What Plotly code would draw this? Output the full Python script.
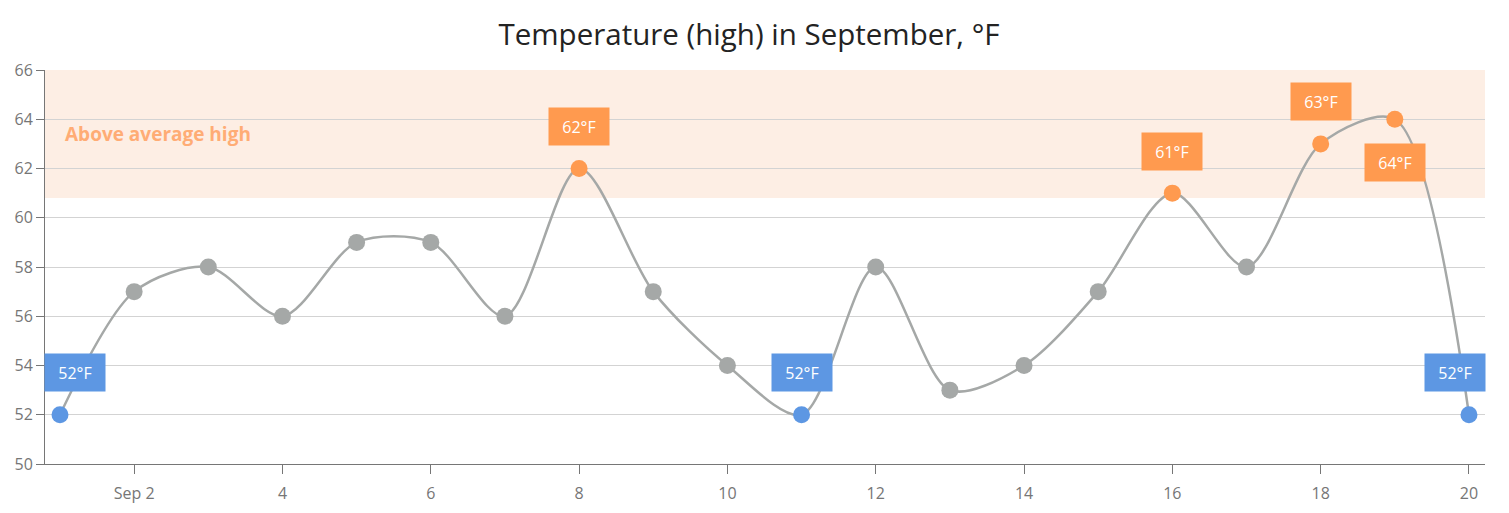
import plotly.graph_objects as go

# ---- data ----
dates = ["2023-09-%02d" % d for d in range(1, 21)]
temps = [52, 57, 58, 56, 59, 59, 56, 62, 57, 54, 52, 58, 53, 54, 57, 61, 58, 63, 64, 52]
tick_dates = ["2023-09-%02d" % d for d in range(2, 21, 2)]
tick_labels = ["Sep 2", "4", "6", "8", "10", "12", "14", "16", "18", "20"]
band_low, band_high = 60.8, 66
band_label = "Above average high"
title = "Temperature (high) in September, °F"

BLUE = "#5d97e3"
ORANGE = "#ff9a4f"
GRAY = "#a5a8a7"
FONT = "Open Sans"

low = min(temps)
colors = []
for t in temps:
    if t == low:
        colors.append(BLUE)
    elif t >= band_low:
        colors.append(ORANGE)
    else:
        colors.append(GRAY)

fig = go.Figure()
fig.add_shape(type="rect", xref="paper", x0=0, x1=1, yref="y", y0=band_low, y1=band_high,
              fillcolor="#fdeee4", line_width=0, layer="below")

fig.add_trace(go.Scatter(
    x=dates, y=temps, mode="lines+markers",
    line=dict(color=GRAY, width=2.5, shape="spline", smoothing=0.85),
    marker=dict(size=17, color=colors, line=dict(width=0)),
    hoverinfo="x+y", showlegend=False,
))

n = len(temps)
for i, (d, t, c) in enumerate(zip(dates, temps, colors)):
    if c == GRAY:
        continue
    yshift = 42
    if t == max(temps):
        yshift = -43
    xshift = 0
    if i == 0:
        xshift = 15
    elif i == n - 1:
        xshift = -14
    fig.add_annotation(
        x=d, y=t, text=f"{t}°F", showarrow=False,
        xshift=xshift, yshift=yshift,
        bgcolor=c, width=52, height=29, borderpad=4,
        font=dict(family=FONT, size=16, color="white"),
    )

fig.add_annotation(
    xref="paper", yref="y", x=(63 - 45) / 1440, y=63.4, xanchor="left",
    text=f"<b>{band_label}</b>", showarrow=False,
    font=dict(family=FONT, size=19, color="#ffac75"),
)

fig.update_layout(
    width=1501, height=505,
    margin=dict(l=37, r=24, t=62, b=49, autoexpand=False),
    paper_bgcolor="white", plot_bgcolor="white",
    title=dict(text=title, x=(749 - 8) / 1501, xanchor="center", y=1 - 27 / 505, yanchor="middle",
               font=dict(family=FONT, size=29.5, color="#232323")),
    font=dict(family=FONT, size=16, color="#767676"),
)
fig.update_xaxes(
    type="date", range=["2023-08-31 19:09", "2023-09-20 05:11"],
    tickvals=tick_dates, ticktext=tick_labels,
    showgrid=False, showline=True, linecolor="#767676", linewidth=1,
    ticks="outside", ticklen=9, tickcolor="#767676", zeroline=False,
    ticklabelstandoff=6,
    tickfont=dict(size=16, color="#767676"), automargin=False,
)
fig.update_yaxes(
    range=[50, 66], dtick=2, showgrid=True, gridcolor="#d3d3d3", gridwidth=1,
    showline=True, linecolor="#767676", linewidth=1,
    ticks="outside", ticklen=8, tickcolor="#767676", zeroline=False,
    tickfont=dict(size=16, color="#767676"), automargin=False,
)

fig.write_html("out.html")
